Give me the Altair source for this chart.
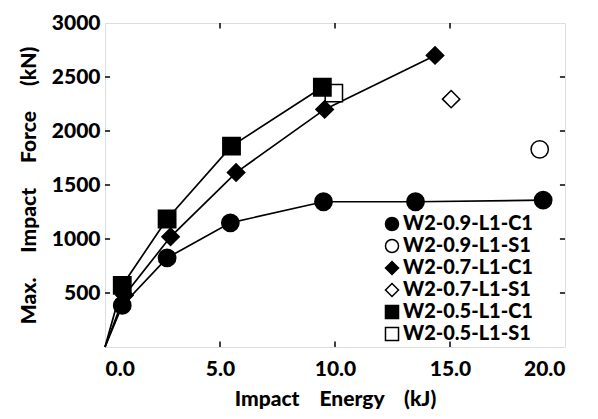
import altair as alt
import pandas as pd

# Series data (Impact Energy kJ, Max. Impact Force kN)
series_names = ["W2-0.9-L1-C1", "W2-0.9-L1-S1", "W2-0.7-L1-C1",
                "W2-0.7-L1-S1", "W2-0.5-L1-C1", "W2-0.5-L1-S1"]

c09_x = [0.75, 2.7, 5.45, 9.5, 13.5, 19.05]
c09_y = [385, 825, 1150, 1345, 1345, 1360]
s09_x = [18.9]
s09_y = [1830]
c07_x = [0.85, 2.85, 5.7, 9.55, 14.35]
c07_y = [480, 1020, 1615, 2200, 2700]
s07_x = [15.05]
s07_y = [2295]
c05_x = [0.75, 2.7, 5.5, 9.45]
c05_y = [570, 1185, 1860, 2405]
s05_x = [9.95]
s05_y = [2350]

x_ticks = [5, 10, 15]
y_ticks = [500, 1000, 1500, 2000, 2500]

FONT = "Lato"
W = 900

# points table (open series first so filled markers sit on top)
rows = []
for name, xs, ys in [(series_names[1], s09_x, s09_y),
                     (series_names[3], s07_x, s07_y),
                     (series_names[5], s05_x, s05_y),
                     (series_names[0], c09_x, c09_y),
                     (series_names[2], c07_x, c07_y),
                     (series_names[4], c05_x, c05_y)]:
    for xv, yv in zip(xs, ys):
        rows.append({"series": name, "energy": xv, "force": yv})
pts = pd.DataFrame(rows)

# lines: filled series start from origin
lrows = []
for name, xs, ys in [(series_names[0], c09_x, c09_y),
                     (series_names[2], c07_x, c07_y),
                     (series_names[4], c05_x, c05_y)]:
    lrows.append({"series": name, "energy": 0, "force": 0, "o": 0})
    for i, (xv, yv) in enumerate(zip(xs, ys)):
        lrows.append({"series": name, "energy": xv, "force": yv, "o": i + 1})
lines_df = pd.DataFrame(lrows)

xscale = alt.Scale(domain=[0, 20], nice=False, zero=False)
yscale = alt.Scale(domain=[0, 3000], nice=False, zero=False)

xaxis = alt.Axis(values=[0, 5, 10, 15, 20], format=".1f", ticks=False, domain=False, grid=False,
                 title="Impact\u00a0\u00a0\u00a0 Energy\u00a0\u00a0\u00a0 (kJ)",
                 labelFont=FONT, labelFontSize=21, labelFontWeight=W, labelColor="black",
                 labelPadding=11, titleFont=FONT, titleFontSize=21, titleFontWeight=W,
                 titleColor="black", titlePadding=9)
yaxis = alt.Axis(values=[500, 1000, 1500, 2000, 2500, 3000], format="d", ticks=False, domain=False, grid=False,
                 title="Max.\u00a0\u00a0\u00a0\u00a0 Impact\u00a0\u00a0\u00a0\u00a0 Force\u00a0\u00a0\u00a0\u00a0 (kN)",
                 labelFont=FONT, labelFontSize=21, labelFontWeight=W, labelColor="black",
                 labelPadding=5, titleFont=FONT, titleFontSize=21, titleFontWeight=W,
                 titleColor="black", titlePadding=12)

lines = alt.Chart(lines_df).mark_line(color="black", strokeWidth=1.7).encode(
    x=alt.X("energy:Q", scale=xscale, axis=xaxis),
    y=alt.Y("force:Q", scale=yscale, axis=yaxis),
    detail="series:N",
    order="o:Q",
)

shape_range = ["circle", "circle", "diamond", "diamond", "square", "square"]
fill_range = ["black", "white", "black", "white", "black", "white"]
stroke_range = ["black"] * 6
legend = alt.Legend(title=None, orient="none", legendX=277, legendY=191,
                    labelFont=FONT, labelFontSize=20, labelFontWeight=W, labelColor="black",
                    symbolSize=170, symbolStrokeWidth=1.5,
                    rowPadding=2, labelOffset=1, padding=0)

points = alt.Chart(pts).mark_point(filled=True, strokeWidth=1.5, size=300, opacity=1).encode(
    x=alt.X("energy:Q", scale=xscale),
    y=alt.Y("force:Q", scale=yscale),
    shape=alt.Shape("series:N", scale=alt.Scale(domain=series_names, range=shape_range), legend=legend),
    fill=alt.Fill("series:N", scale=alt.Scale(domain=series_names, range=fill_range), legend=legend),
    stroke=alt.Stroke("series:N", scale=alt.Scale(domain=series_names, range=stroke_range), legend=legend),
)

# inward tick marks on all four sides
trows = []
for t in x_ticks:
    trows.append({"x1": t, "x2": t, "y1": 0, "y2": 50})
    trows.append({"x1": t, "x2": t, "y1": 3000, "y2": 2950})
for t in y_ticks:
    trows.append({"x1": 0, "x2": 0.22, "y1": t, "y2": t})
    trows.append({"x1": 20, "x2": 19.78, "y1": t, "y2": t})
ticks = alt.Chart(pd.DataFrame(trows)).mark_rule(color="black", strokeWidth=1.5).encode(
    x=alt.X("x1:Q", scale=xscale),
    x2="x2:Q",
    y=alt.Y("y1:Q", scale=yscale),
    y2="y2:Q",
)

chart = alt.layer(ticks, lines, points).properties(
    width=460, height=324,
    autosize=alt.AutoSizeParams(type="none"),
    padding={"left": 105, "top": 23, "right": 33, "bottom": 72},
).configure_view(stroke="black", strokeWidth=2.5).configure(background="white")

chart.save("out.html", embed_options={"renderer": "svg", "actions": False})
